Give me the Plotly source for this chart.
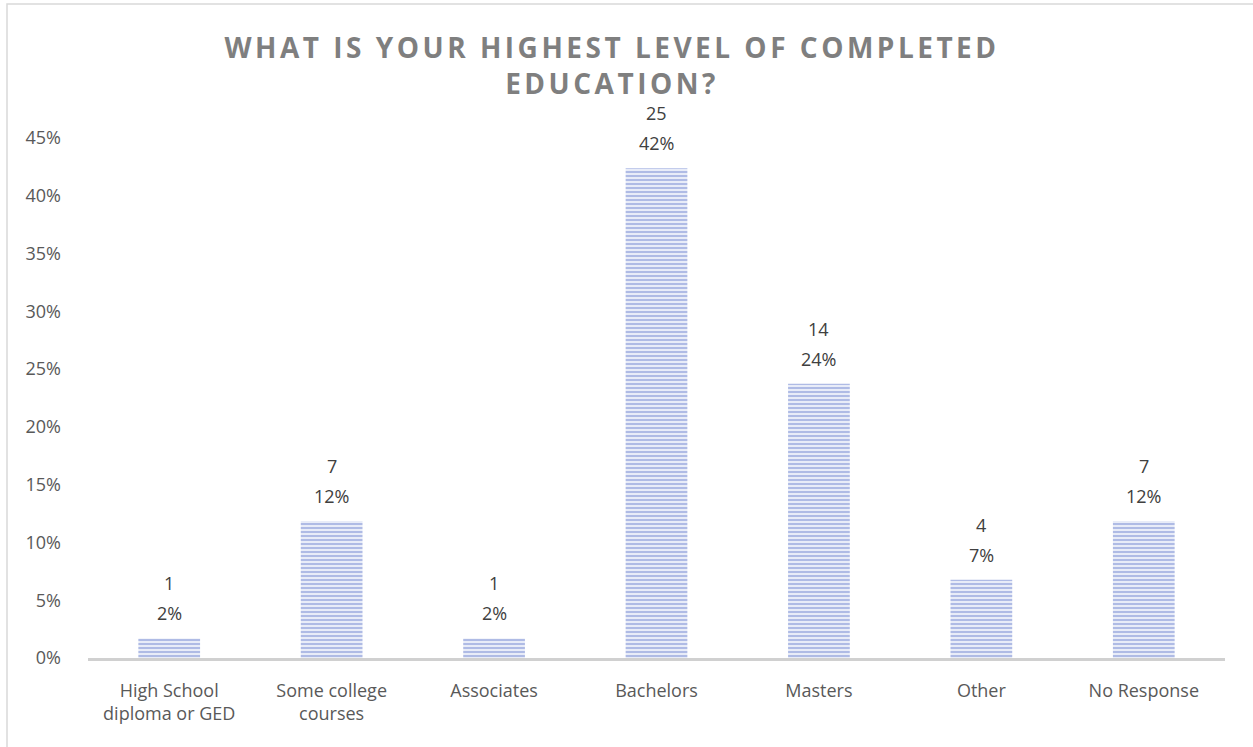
import plotly.graph_objects as go

categories = ["High School<br>diploma or GED", "Some college<br>courses", "Associates",
              "Bachelors", "Masters", "Other", "No Response"]
counts = [1, 7, 1, 25, 14, 4, 7]
total = sum(counts)
shares = [c / total for c in counts]
pct_labels = [f"{round(s*100)}%" for s in shares]
tick_vals = [0, 0.05, 0.10, 0.15, 0.20, 0.25, 0.30, 0.35, 0.40, 0.45]
tick_text = ["0%", "5%", "10%", "15%", "20%", "25%", "30%", "35%", "40%", "45%"]

W, H = 1253, 747
L, R, T, B = 88, 28, 138, 89
pw, ph = W - L - R, H - T - B
FONT = "Open Sans, DejaVu Sans, sans-serif"

fig = go.Figure(go.Bar(
    x=categories, y=shares,
    marker=dict(color="white", line=dict(width=0),
                pattern=dict(shape="-", fgcolor="#6f86d0", bgcolor="#eef1fa",
                             size=4, solidity=0.55)),
    cliponaxis=False,
))

annotations = []
for cat, s, c, p in zip(categories, shares, counts, pct_labels):
    annotations.append(dict(x=cat, y=s, xref="x", yref="y", text=p, showarrow=False,
                            yanchor="bottom", yshift=11,
                            font=dict(family=FONT, size=18, color="#404040")))
    annotations.append(dict(x=cat, y=s, xref="x", yref="y", text=str(c), showarrow=False,
                            yanchor="bottom", yshift=41,
                            font=dict(family=FONT, size=18, color="#404040")))

fig.update_layout(
    width=W, height=H,
    margin=dict(l=L, r=R, t=T, b=B, autoexpand=False),
    paper_bgcolor="white", plot_bgcolor="white",
    bargap=0.62,
    showlegend=False,
    font=dict(family=FONT, size=18, color="#595959"),
    title=dict(text="WHAT IS YOUR HIGHEST LEVEL OF COMPLETED<br>EDUCATION?",
               x=612 / W, xref="container", xanchor="center",
               y=1 - 58 / H, yref="container", yanchor="middle",
               font=dict(family=FONT, size=28, color="#7f7f7f", weight="bold")),
    xaxis=dict(showgrid=False, showline=True, linecolor="#d0d0d0", linewidth=3,
               ticks="", automargin=False, ticklabelstandoff=14,
               tickfont=dict(size=18, color="#595959")),
    yaxis=dict(range=[0, 0.45], tickvals=tick_vals, ticktext=tick_text,
               showgrid=False, showline=False, zeroline=False, ticks="",
               automargin=False,
               tickfont=dict(size=18, color="#595959"), ticklabelstandoff=26),
    annotations=annotations,
    shapes=[dict(type="rect", xref="paper", yref="paper",
                 x0=(7 - L) / pw, x1=(W + 2 - L) / pw,
                 y0=(T + ph - (H + 5)) / ph, y1=(T + ph - 4) / ph,
                 line=dict(color="#d9d9d9", width=1.5), fillcolor="rgba(0,0,0,0)", layer="below")],
)

post = """
document.body.style.margin = '0';
document.documentElement.style.margin = '0';
var t = document.querySelectorAll('.gtitle');
t.forEach(function(el){ el.style.letterSpacing = '3.5px'; });
"""
fig.write_html("out.html", post_script=post, config={"displayModeBar": False})
